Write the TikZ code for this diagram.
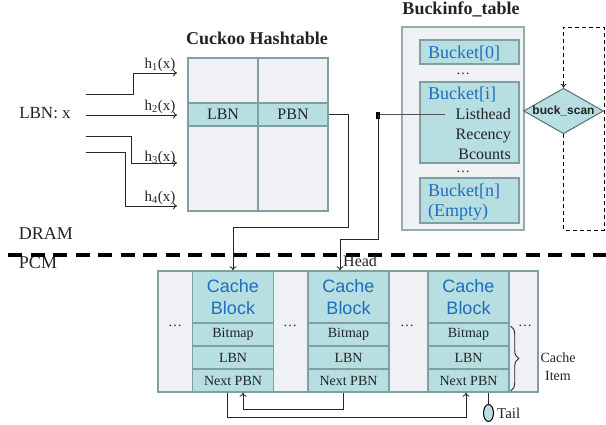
\documentclass[tikz,border=0pt]{standalone}
\usepackage{fontspec}
\setmainfont{Liberation Serif}
\setsansfont{Liberation Sans}
\usetikzlibrary{arrows.meta,shapes.geometric,decorations.pathreplacing,calc}

\definecolor{tealfill}{RGB}{183,222,224}
\definecolor{panel}{RGB}{240,241,244}
\definecolor{edge}{RGB}{127,160,160}
\definecolor{outeredge}{RGB}{150,172,174}
\definecolor{blueink}{RGB}{30,110,190}
\definecolor{ink}{RGB}{35,35,35}
\definecolor{wire}{RGB}{40,40,40}

\newcommand\fsz[1]{\fontsize{#1}{#1}\selectfont}

\begin{document}
\begin{tikzpicture}[x=1pt,y=-1pt,
  text=ink,
  panelbox/.style={draw=edge, line width=1.5pt, fill=panel, inner sep=0pt},
  cellbox/.style={draw=edge, line width=1.5pt, fill=tealfill, inner sep=0pt},
  conn/.style={draw=wire, line width=0.9pt},
  arr/.style={conn, -{To[length=4pt,width=7pt]}},
  title/.style={font=\fsz{18}\bfseries, inner sep=0pt, anchor=base},
  hlab/.style={font=\fsz{15}, anchor=south east, inner sep=1.5pt},
  bluetxt/.style={font=\fsz{18}, text=blueink, inner sep=0pt, anchor=base west},
  fieldtxt/.style={font=\fsz{16}, inner sep=0pt, anchor=base east},
  cbtxt/.style={font=\sffamily\fontsize{18}{22}\selectfont, text=blueink, align=center},
  itemtxt/.style={font=\fsz{14}},
  dotstxt/.style={font=\fsz{14}, inner sep=0pt},
  separator/.style={line width=4pt, dash pattern=on 14pt off 8.5pt},
  scanloop/.style={draw=black, line width=0.8pt, dash pattern=on 4pt off 3pt, -{To[length=4pt,width=6pt]}}
]
\useasboundingbox (0,0) rectangle (606,425);

% ---------- Cuckoo hashtable ----------
\node[title] (httitle) at (257,45) {Cuckoo Hashtable};
\node[panelbox, minimum width=140pt, minimum height=153pt] (ht) at (258,134.5) {};
\draw[edge, line width=1.5pt] (ht.north) -- (ht.south);
\node[cellbox, minimum width=70pt, minimum height=23pt, font=\fsz{16}] (lbn) at (223,114.5) {LBN};
\node[cellbox, minimum width=70pt, minimum height=23pt, font=\fsz{16}] (pbn) at (293,114.5) {PBN};

% ---------- hash functions ----------
\node[font=\fsz{17}] (key) at (45,113) {LBN: x};
\coordinate (s1) at (86,94);  \coordinate (e1) at (177,73);
\coordinate (s2) at (86,115); \coordinate (e2) at (177,115);
\coordinate (s3) at (86,136); \coordinate (e3) at (177,163);
\coordinate (s4) at (86,152); \coordinate (e4) at (177,206);
\draw[arr] (s1) -| (133,73) -- (e1);
\draw[arr] (s2) -- (e2);
\draw[arr] (s3) -| (131,163) -- (e3);
\draw[arr] (s4) -| (125,206) -- (e4);
\node[hlab] at (e1) {h\textsubscript{1}(x)};
\node[hlab] at (e2) {h\textsubscript{2}(x)};
\node[hlab, yshift=-3pt] at (e3) {h\textsubscript{3}(x)};
\node[hlab] at (e4) {h\textsubscript{4}(x)};

% ---------- bucket info table ----------
\node[title] (bititle) at (461,15) {Buckinfo\_table};
\node[draw=outeredge, line width=1.5pt, fill=panel, minimum width=122pt, minimum height=203pt, inner sep=0pt] (bi) at (463,128.5) {};
\node[cellbox, minimum width=99pt, minimum height=24pt] (b0) at (469.5,52) {};
\node[cellbox, minimum width=99pt, minimum height=81pt] (bi2) at (469.5,122.5) {};
\node[cellbox, minimum width=99pt, minimum height=45pt] (bn) at (469.5,200.5) {};
\node[bluetxt] at (428,59) {Bucket[0]};
\node[bluetxt] at (428,100) {Bucket[i]};
\node[bluetxt] at (428,197) {Bucket[n]};
\node[bluetxt] at (428,217) {(Empty)};
\node[fieldtxt] (lh) at (511,120) {Listhead};
\node[fieldtxt] (rc) at (511,140) {Recency};
\node[fieldtxt] (bc) at (511,160) {Bcounts};
\node[dotstxt] at (463,74) {\dots};
\node[dotstxt] at (463,172) {\dots};

% scan routine over the buckets
\node[diamond, draw=edge!70!black, line width=1pt, fill=tealfill, aspect=1.75,
      minimum width=79pt, minimum height=45pt, inner sep=0pt,
      font=\sffamily\bfseries\fsz{12}] (scan) at (563.5,111) {buck\_scan};
\draw[scanloop] (scan.south) |- (604,230) -- (604,27) -| (scan.north);

% ---------- DRAM / PCM boundary ----------
\node[font=\fsz{18}, inner sep=0pt, anchor=base] (dram) at (46,240) {DRAM};
\node[font=\fsz{18}, inner sep=0pt, anchor=base] (pcm) at (38,269) {PCM};
\coordinate (sepl) at (8,255);
\coordinate (sepr) at (606,255);
\draw[separator] (sepl) -- (sepr);

% ---------- cache blocks in PCM ----------
\node[panelbox, minimum width=380pt, minimum height=121pt] (pcmarea) at (348,331.5) {};
\foreach \i/\x in {1/233,2/348.5,3/468.5} {
  \node[cellbox, minimum width=81pt, minimum height=52pt, cbtxt] (cb\i) at (\x,297) {Cache\\Block};
  \node[cellbox, minimum width=81pt, minimum height=23pt, itemtxt] (bm\i) at (\x,334.5) {Bitmap};
  \node[cellbox, minimum width=81pt, minimum height=23pt, itemtxt] (lb\i) at (\x,357.5) {LBN};
  \node[cellbox, minimum width=81pt, minimum height=23pt, itemtxt] (np\i) at (\x,380.5) {Next PBN};
}
\foreach \x in {175,290,407,525} \node[dotstxt] at (\x,326) {\dots};

% cache item brace
\draw[conn, decorate, decoration={brace, amplitude=8pt}]
  ([xshift=1pt,yshift=-4pt]bm3.north east) -- ([xshift=1pt,yshift=2pt]np3.south east);
\node[itemtxt, align=center, font=\fontsize{14}{18}\selectfont] (ci) at (558,367) {Cache\\Item};

% ---------- pointers ----------
% hashtable PBN -> cache block
\draw[arr] (pbn.east) -- ++(20,0) |- ($(cb1.north)+(0,-43)$) -- (cb1.north);
% bucket list head -> first block of the list
\coordinate (sq) at (378,0 |- lh.west);
\draw[conn, draw=wire!80, line width=1.1pt] (sq) -- ([xshift=-11pt]lh.west);
\fill[black] ($(sq)+(-2,-3)$) rectangle ($(sq)+(2,4)$);
\draw[arr] (sq) |- ($(cb2.north)+(-8.5,-31)$) -- ([xshift=-8.5pt]cb2.north);
\node[font=\fsz{16}, inner sep=0pt, anchor=base west] (head) at (343,267) {Head};

% next-PBN links
\draw[arr] ([xshift=-5.5pt]np2.south) -- ++(0,17) -| ([xshift=10pt]np1.south);
\draw[arr] ([xshift=-6pt]np1.south) -- ++(0,25) -| ([xshift=-2.5pt]np3.south);

% tail marker
\node[ellipse, draw=black, line width=1pt, fill=tealfill, minimum width=10pt, minimum height=17pt, inner sep=0pt] (tail) at (488.5,413) {};
\draw[conn] ([xshift=20pt]np3.south) -- (tail.north);
\node[font=\fsz{15}, anchor=west, inner sep=3pt] (taillbl) at (tail.east) {Tail};
\end{tikzpicture}
\end{document}
